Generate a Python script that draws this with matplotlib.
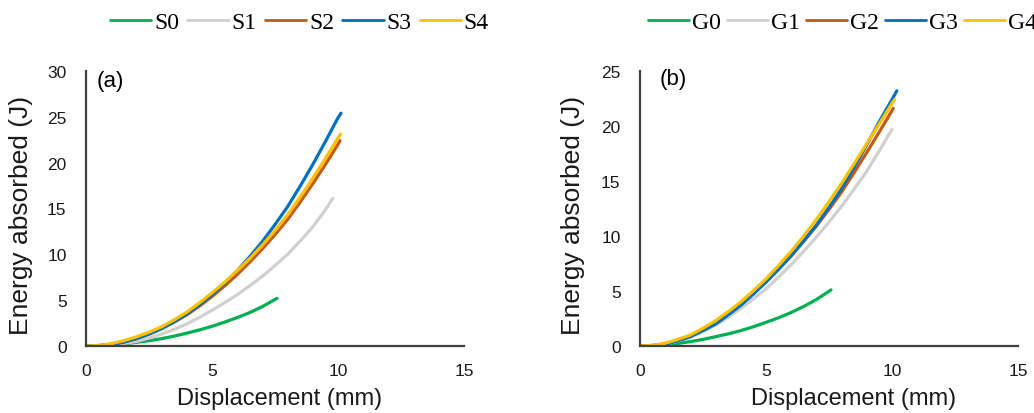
import numpy as np
import matplotlib.pyplot as plt

# energy absorbed vs displacement, two sets of specimens
# displacement readings in mm, every 0.5 mm up to the end of each test
grid = [0, 0.5, 1, 1.5, 2, 2.5, 3, 3.5, 4, 4.5, 5, 5.5, 6, 6.5, 7, 7.5,
        8, 8.5, 9, 9.5, 10]

disp_s0 = grid[:15] + [7.58]
energy_s0 = [0, 0.02, 0.1, 0.23, 0.4, 0.58, 0.8, 1.08, 1.4, 1.75, 2.15,
             2.6, 3.1, 3.65, 4.3, 5.2]
disp_s1 = grid[:20] + [9.79]
energy_s1 = [0, 0.03, 0.1, 0.27, 0.5, 0.87, 1.3, 1.82, 2.4, 3.12, 3.9,
             4.72, 5.6, 6.57, 7.6, 8.77, 10.0, 11.45, 13.0, 14.85, 16.1]
disp_s2 = grid + [10.08]
energy_s2 = [0, 0.05, 0.2, 0.45, 0.8, 1.3, 1.9, 2.6, 3.4, 4.35, 5.4,
             6.55, 7.8, 9.15, 10.6, 12.15, 13.8, 15.7, 17.7, 19.8, 22.0, 22.4]
disp_s3 = grid + [10.12]
energy_s3 = [0, 0.04, 0.15, 0.42, 0.8, 1.3, 1.9, 2.65, 3.5, 4.5, 5.6,
             6.85, 8.2, 9.75, 11.4, 13.25, 15.2, 17.45, 19.8, 22.3, 24.9, 25.4]
disp_s4 = grid + [10.1]
energy_s4 = [0, 0.06, 0.25, 0.58, 1.0, 1.5, 2.1, 2.85, 3.7, 4.7, 5.8,
             6.95, 8.2, 9.55, 11.0, 12.6, 14.3, 16.25, 18.3, 20.45, 22.7, 23.1]

disp_g0 = grid[:15] + [7.58]
energy_g0 = [0, 0.02, 0.1, 0.23, 0.4, 0.6, 0.85, 1.1, 1.4, 1.75, 2.15,
             2.57, 3.05, 3.6, 4.22, 5.1]
disp_g1 = grid
energy_g1 = [0, 0.04, 0.15, 0.44, 0.8, 1.32, 1.9, 2.62, 3.4, 4.27, 5.2,
             6.27, 7.4, 8.63, 9.9, 11.27, 12.7, 14.27, 15.9, 17.75, 19.7]
disp_g2 = grid + [10.05]
energy_g2 = [0, 0.05, 0.2, 0.52, 0.9, 1.47, 2.1, 2.92, 3.8, 4.82, 5.9,
             7.03, 8.2, 9.52, 10.9, 12.42, 14.0, 15.77, 17.6, 19.48, 21.4, 21.6]
disp_g3 = grid + [10.19]
energy_g3 = [0, 0.04, 0.15, 0.47, 0.85, 1.4, 2.0, 2.82, 3.7, 4.72, 5.8,
             6.97, 8.2, 9.57, 11.0, 12.6, 14.3, 16.25, 18.3, 20.42, 22.4, 23.2]
disp_g4 = grid + [10.1]
energy_g4 = [0, 0.06, 0.25, 0.6, 1.0, 1.62, 2.3, 3.12, 4.0, 5.02, 6.1,
             7.32, 8.6, 10.02, 11.5, 13.12, 14.8, 16.58, 18.4, 20.23, 22.05, 22.4]

labels_s = ['S0', 'S1', 'S2', 'S3', 'S4']
labels_g = ['G0', 'G1', 'G2', 'G3', 'G4']
colors = ['#00B050', '#D0D0D0', '#C55A11', '#0070C0', '#FFC000']

plt.rcParams['font.family'] = ['Liberation Sans', 'DejaVu Sans']

fig = plt.figure(figsize=(10.34, 4.14), dpi=100)
axa = fig.add_axes([86/1034, 1-347/414, 378/1034, 275/414])
axb = fig.add_axes([640/1034, 1-347/414, 378/1034, 275/414])

set_a = [(disp_s0, energy_s0), (disp_s1, energy_s1), (disp_s2, energy_s2),
         (disp_s3, energy_s3), (disp_s4, energy_s4)]
set_b = [(disp_g0, energy_g0), (disp_g1, energy_g1), (disp_g2, energy_g2),
         (disp_g3, energy_g3), (disp_g4, energy_g4)]


def panel(ax, data, labels, ymax, tag, tagpos, legx, colsp, xlab_x, ylab_x):
    for (x, y), lab, c in zip(data, labels, colors):
        ax.plot(x, y, color=c, lw=2.3, label=lab, solid_capstyle='round',
                solid_joinstyle='round')
    ax.set_xlim(0, 15)
    ax.set_ylim(0, ymax)
    ax.set_xticks([0, 5, 10, 15])
    ax.set_yticks(np.arange(0, ymax + 1, 5))
    for s in ['top', 'right']:
        ax.spines[s].set_visible(False)
    for s in ['left', 'bottom']:
        ax.spines[s].set_color('#404040')
        ax.spines[s].set_linewidth(1.6)
    ax.tick_params(length=0, labelsize=12.5, colors='#1a1a1a', pad=12)
    ax.tick_params(axis='y', pad=14)
    ax.set_xlabel('Displacement (mm)', fontsize=17, va='center', color='#1a1a1a')
    ax.set_ylabel('Energy absorbed (J)', fontsize=19, va='center', color='#1a1a1a')
    ax.xaxis.set_label_coords(xlab_x, -0.19)
    ax.yaxis.set_label_coords(ylab_x, 0.48)
    ax.text(tagpos[0], tagpos[1], tag, transform=ax.transAxes, fontsize=16,
            ha='left', va='center')
    leg = ax.legend(loc='center left', bbox_to_anchor=(legx, 1.178), ncol=5,
                    frameon=False, handlelength=1.75, handletextpad=0.12,
                    columnspacing=colsp, borderpad=0, borderaxespad=0,
                    prop={'family': 'Liberation Serif', 'size': 17})
    for h in leg.get_lines():
        h.set_linewidth(2)


panel(axa, set_a, labels_s, 30, '(a)', (0.029, 0.964), 0.063, 0.35, 0.512, -0.172)
panel(axb, set_b, labels_g, 25, '(b)', (0.053, 0.971), 0.021, 0.25, 0.565, -0.177)

fig.savefig('out.png', dpi=100)
